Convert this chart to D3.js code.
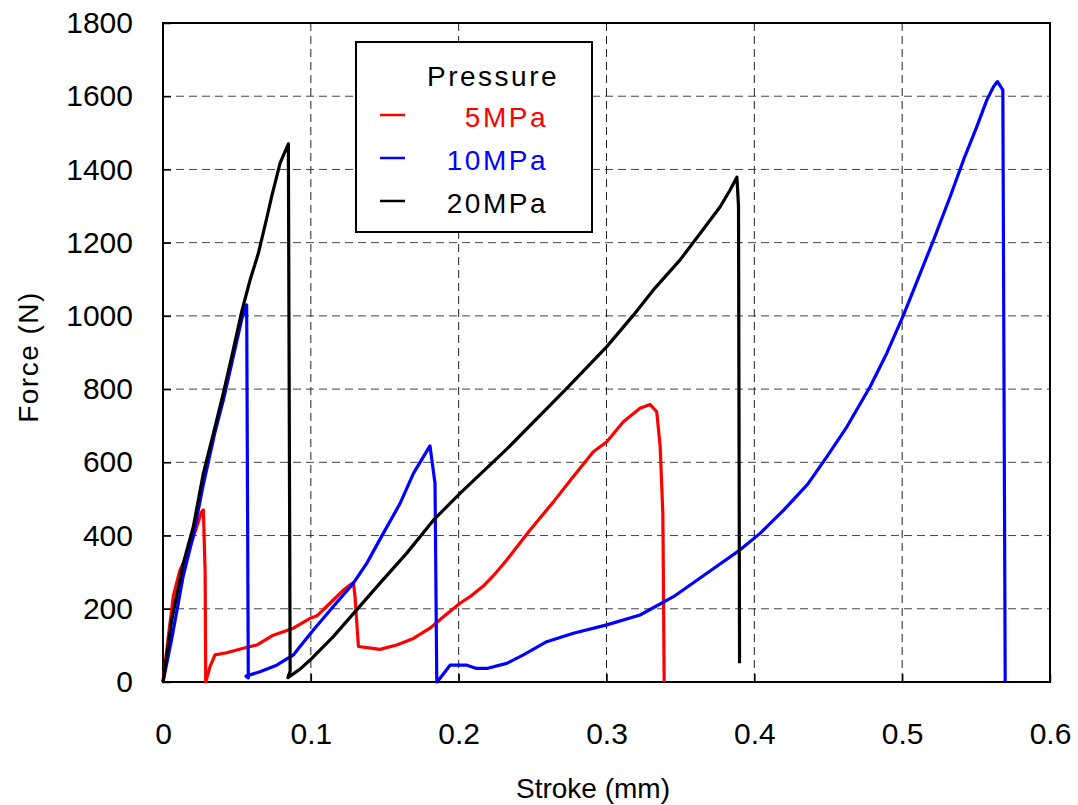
<!DOCTYPE html>
<html>
<head>
<meta charset="utf-8">
<script src="https://cdn.jsdelivr.net/npm/d3@7"></script>
<style>
  body { margin: 0; background: #fff; }
  svg text { font-family: "Liberation Sans", Arial, sans-serif; }
</style>
</head>
<body>
<div id="chart"></div>
<script>
// data: stroke (mm) / force (N)
var stroke5 = [0, 0.0036, 0.007, 0.0115, 0.016, 0.0228, 0.0262, 0.0273, 0.0285, 0.0289, 0.0318, 0.0352, 0.0431, 0.0543, 0.0634, 0.0746, 0.0882, 0.0995, 0.104, 0.1152, 0.122, 0.1288, 0.1299, 0.1322, 0.1378, 0.1468, 0.1581, 0.1694, 0.1806, 0.1897, 0.2009, 0.2087, 0.2167, 0.2245, 0.2325, 0.2483, 0.2641, 0.2776, 0.2911, 0.3002, 0.3114, 0.3227, 0.3295, 0.334, 0.3363, 0.3381, 0.3385, 0.339];
var force5 = [0, 124, 235, 306, 342, 424, 465, 470, 300, 0, 42, 74, 80, 92, 101, 128, 147, 174, 180, 224, 251, 272, 233, 97, 94, 89, 101, 119, 147, 178, 215, 236, 262, 295, 333, 415, 492, 561, 629, 656, 711, 748, 758, 738, 643, 461, 279, 0];

var stroke10 = [0, 0.006, 0.0137, 0.0205, 0.0273, 0.035, 0.0408, 0.0465, 0.0532, 0.0566, 0.0577, 0.0562, 0.0656, 0.0769, 0.0882, 0.0927, 0.1017, 0.1152, 0.1288, 0.1378, 0.149, 0.1604, 0.1694, 0.1761, 0.1806, 0.184, 0.1852, 0.1874, 0.1942, 0.2055, 0.2122, 0.219, 0.2325, 0.2438, 0.2596, 0.2776, 0.3002, 0.3227, 0.3453, 0.3679, 0.3904, 0.4039, 0.42, 0.436, 0.449, 0.4626, 0.4784, 0.4896, 0.5009, 0.5122, 0.5212, 0.5325, 0.5415, 0.5505, 0.5573, 0.5618, 0.5645, 0.5681, 0.5697];
var force10 = [0, 120, 290, 400, 540, 680, 770, 870, 990, 1030, 11, 16, 28, 46, 74, 97, 142, 206, 270, 324, 406, 488, 570, 615, 645, 543, 0, 10, 46, 46, 37, 37, 51, 74, 110, 133, 156, 183, 233, 297, 361, 406, 470, 540, 615, 697, 807, 898, 1002, 1116, 1207, 1326, 1426, 1517, 1590, 1626, 1640, 1617, 0];

var stroke20 = [0, 0.0059, 0.0137, 0.0205, 0.0273, 0.0352, 0.0408, 0.0465, 0.0532, 0.0589, 0.0645, 0.0701, 0.0735, 0.0792, 0.0848, 0.086, 0.0845, 0.0927, 0.0995, 0.1152, 0.131, 0.1468, 0.1649, 0.1829, 0.2009, 0.2325, 0.2731, 0.3002, 0.3182, 0.3317, 0.3498, 0.3633, 0.3769, 0.3836, 0.3882, 0.3893, 0.39];
var force20 = [0, 169, 324, 424, 570, 697, 789, 889, 1011, 1098, 1171, 1266, 1326, 1417, 1470, 30, 12, 35, 60, 124, 197, 270, 352, 442, 515, 636, 802, 916, 1002, 1071, 1153, 1225, 1298, 1344, 1379, 1300, 51];

var seriesNames = ["5MPa", "10MPa", "20MPa"];
var seriesColors = ["#ff0000", "#0000ff", "#000000"];
var xTicks = [0, 0.1, 0.2, 0.3, 0.4, 0.5, 0.6];
var yTicks = [0, 200, 400, 600, 800, 1000, 1200, 1400, 1600, 1800];

var W = 1078, H = 805;
var mLeft = 163, mRight = 1050, mTop = 23, mBottom = 682;

var svg = d3.select("#chart").append("svg")
    .attr("width", W)
    .attr("height", H);

var x = d3.scaleLinear().domain([0, 0.6]).range([mLeft, mRight]);
var y = d3.scaleLinear().domain([0, 1800]).range([mBottom, mTop]);

// grid
svg.append("g").selectAll("line")
    .data(yTicks.slice(1, -1))
  .enter().append("line")
    .attr("x1", mLeft).attr("x2", mRight)
    .attr("y1", function(d) { return y(d); })
    .attr("y2", function(d) { return y(d); })
    .attr("stroke", "#444").attr("stroke-width", 1)
    .attr("stroke-dasharray", "8,5");

svg.append("g").selectAll("line")
    .data(xTicks.slice(1, -1))
  .enter().append("line")
    .attr("y1", mTop).attr("y2", mBottom)
    .attr("x1", function(d) { return x(d); })
    .attr("x2", function(d) { return x(d); })
    .attr("stroke", "#222").attr("stroke-width", 1)
    .attr("stroke-dasharray", "8,5");

// axes (ticks inward)
var xAxis = svg.append("g")
    .attr("transform", "translate(0," + mBottom + ")")
    .call(d3.axisBottom(x).tickValues(xTicks).tickSizeInner(-8).tickSizeOuter(0).tickPadding(41)
      .tickFormat(function(d) { return d === 0 ? "0" : d3.format(".1f")(d); }));
var yAxis = svg.append("g")
    .attr("transform", "translate(" + mLeft + ",0)")
    .call(d3.axisLeft(y).tickValues(yTicks).tickSizeInner(-8).tickSizeOuter(0).tickPadding(30)
      .tickFormat(d3.format("d")));

[xAxis, yAxis].forEach(function(a) {
  a.select(".domain").remove();
  a.selectAll(".tick line").attr("stroke", "#000").attr("stroke-width", 1.5);
  a.selectAll("text").attr("font-size", 30).attr("fill", "#000")
    .attr("font-family", "'Liberation Sans', Arial, sans-serif");
});

// frame
svg.append("rect")
    .attr("x", mLeft).attr("y", mTop)
    .attr("width", mRight - mLeft).attr("height", mBottom - mTop)
    .attr("fill", "none").attr("stroke", "#000").attr("stroke-width", 2);

// series
var line = d3.line()
    .x(function(d) { return x(d[0]); })
    .y(function(d) { return y(d[1]); });

var series = [
  d3.zip(stroke5, force5),
  d3.zip(stroke10, force10),
  d3.zip(stroke20, force20)
];

svg.append("g").selectAll("path")
    .data(series)
  .enter().append("path")
    .attr("d", line)
    .attr("fill", "none")
    .attr("stroke", function(d, i) { return seriesColors[i]; })
    .attr("stroke-width", 3.2)
    .attr("stroke-linejoin", "round");

// axis titles
svg.append("text")
    .attr("x", 593).attr("y", 798)
    .attr("text-anchor", "middle")
    .attr("font-size", 28)
    .text("Stroke (mm)");

svg.append("text")
    .attr("transform", "translate(38,357) rotate(-90)")
    .attr("text-anchor", "middle")
    .attr("font-size", 28)
    .attr("letter-spacing", 1.5)
    .text("Force (N)");

// legend
var lg = svg.append("g");
lg.append("rect")
    .attr("x", 356).attr("y", 42).attr("width", 236).attr("height", 190)
    .attr("fill", "#fff").attr("stroke", "#000").attr("stroke-width", 2);
lg.append("text")
    .attr("x", 427).attr("y", 86)
    .attr("font-size", 28)
    .attr("letter-spacing", 2.5)
    .text("Pressure");

var item = lg.selectAll(".item")
    .data(seriesNames)
  .enter().append("g")
    .attr("class", "item")
    .attr("transform", function(d, i) { return "translate(0," + (115 + i * 43) + ")"; });
item.append("line")
    .attr("x1", 380).attr("x2", 405)
    .attr("stroke", function(d, i) { return seriesColors[i]; })
    .attr("stroke-width", 2.5);
item.append("text")
    .attr("x", 548).attr("y", 12)
    .attr("text-anchor", "end")
    .attr("font-size", 28)
    .attr("letter-spacing", 2.5)
    .attr("fill", function(d, i) { return seriesColors[i]; })
    .text(function(d) { return d; });
</script>
</body>
</html>
